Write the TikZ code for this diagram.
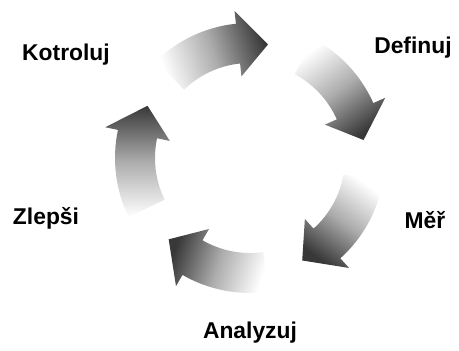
\documentclass[tikz,border=0pt]{standalone}
\usepackage{fontspec}
\setmainfont{Liberation Sans}

\begin{document}
\begin{tikzpicture}[x=0.02cm, y=0.02cm,
    txt/.style={font=\bfseries\fontsize{13}{15}\selectfont, text=black},
    cyc/.style={top color=white, bottom color=black!78, middle color=gray!65, draw=none}
  ]
    \useasboundingbox (0,0) rectangle (459,351);

    % five curved arrows, clockwise from tail to tip
    \begin{scope}[shift={(250,193)}]
      \foreach \t in {134,62,-10,-82,-154} {
        \pgfmathsetmacro{\h}{\t-53}
        \pgfmathsetmacro{\b}{\h+15}
        \pgfmathsetmacro{\m}{\t-26}
        \shade[cyc, shading angle=\m]
          (\t:135) arc[start angle=\t, end angle=\b, radius=135]
          -- (\b:148) -- (\h:115) -- (\b:82) -- (\b:95)
          arc[start angle=\b, end angle=\t, radius=95] -- cycle;
      }
    \end{scope}

    \node[txt] (ctrl) at (66,296) {Kotroluj};
    \node[txt] (def) at (413,303) {Definuj};
    \node[txt] (mer) at (425,131) {Měř};
    \node[txt] (ana) at (250,18) {Analyzuj};
    \node[txt] (zlep) at (46,133) {Zlepši};
  \end{tikzpicture}
\end{document}
